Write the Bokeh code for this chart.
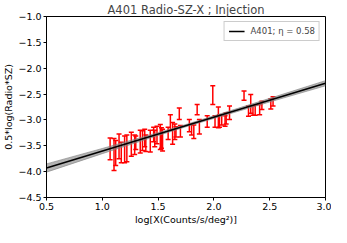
import numpy as np
from bokeh.plotting import figure
from bokeh.models import ColumnDataSource, Whisker, TeeHead, FixedTicker, Legend, LegendItem
from bokeh.embed import file_html
from bokeh.resources import INLINE

# data points (log X, 0.5*log(Radio*SZ), error)
x_vals = [1.07, 1.105, 1.12, 1.15, 1.17, 1.20, 1.22, 1.26, 1.29, 1.30, 1.34, 1.36, 1.38, 1.39,
          1.43, 1.46, 1.47, 1.49, 1.52, 1.53, 1.54, 1.59, 1.61, 1.63, 1.65, 1.66, 1.69, 1.70,
          1.78, 1.80, 1.82, 1.85, 1.87, 1.94, 1.99, 2.01, 2.04, 2.05, 2.07, 2.10, 2.11, 2.14,
          2.27, 2.31, 2.33, 2.35, 2.37, 2.41, 2.43, 2.51, 2.53]
y_vals = [-3.56, -3.67, -3.64, -3.51, -3.63, -3.57, -3.55, -3.47, -3.48, -3.44, -3.42, -3.40, -3.35, -3.45,
          -3.41, -3.28, -3.36, -3.29, -3.33, -3.35, -3.39, -3.26, -3.05, -3.26, -3.23, -3.23, -2.88, -3.22,
          -3.11, -3.19, -3.23, -2.80, -3.13, -3.03, -2.52, -3.03, -2.95, -3.02, -3.00, -3.02, -2.97, -2.86,
          -2.53, -2.83, -2.69, -2.82, -2.81, -2.80, -2.72, -2.69, -2.64]
y_errs = [0.21, 0.31, 0.24, 0.24, 0.20, 0.26, 0.26, 0.23, 0.19, 0.13, 0.22, 0.19, 0.17, 0.16,
          0.21, 0.14, 0.16, 0.17, 0.24, 0.20, 0.21, 0.12, 0.15, 0.21, 0.15, 0.10, 0.11, 0.11,
          0.12, 0.10, 0.13, 0.10, 0.14, 0.11, 0.18, 0.11, 0.20, 0.12, 0.10, 0.10, 0.11, 0.13,
          0.09, 0.10, 0.18, 0.09, 0.10, 0.10, 0.08, 0.10, 0.09]

# fit line and confidence band
fit_x = [0.5, 3.0]
fit_y = [-3.93, -2.29]
band_x = [0.5, 1.0, 1.5, 1.75, 2.0, 2.5, 3.0]
band_hw = [0.08, 0.05, 0.028, 0.022, 0.025, 0.035, 0.05]

x_ticks = [0.5, 1.0, 1.5, 2.0, 2.5, 3.0]
y_ticks = [-4.5, -4.0, -3.5, -3.0, -2.5, -2.0, -1.5, -1.0]

title_text = "A401 Radio-SZ-X ; Injection"
legend_text = "A401; η = 0.58"
x_label = "log[X(Counts/s/deg²)]"
y_label = "0.5*log(Radio*SZ)"

FONT = "DejaVu Sans"

p = figure(width=331, height=227, x_range=(0.5, 3.0), y_range=(-4.5, -1.0),
           output_backend="svg", toolbar_location=None,
           min_border_left=37, min_border_right=6, min_border_top=12, min_border_bottom=27)
p.title.text = title_text
p.title.text_font = FONT
p.title.text_font_size = "11.5px"
p.title.text_font_style = "normal"
p.title.align = "center"
p.title.standoff = 0
p.title.offset = 0

p.grid.visible = False
p.outline_line_color = "black"
p.outline_line_width = 1

for ax, ticks in ((p.xaxis[0], x_ticks), (p.yaxis[0], y_ticks)):
    ax.ticker = FixedTicker(ticks=ticks)
    ax.major_label_overrides = {t: (("−%.1f" % abs(t)) if t < 0 else "%.1f" % t) for t in ticks}
    ax.minor_tick_line_color = None
    ax.major_tick_out = 3
    ax.major_tick_in = 0
    ax.axis_line_color = "black"
    ax.major_tick_line_color = "black"
    ax.major_label_text_font = FONT
    ax.major_label_text_font_size = "9.5px"
    ax.major_label_text_color = "black"
    ax.axis_label_text_font = FONT
    ax.axis_label_text_font_size = "9.5px"
    ax.axis_label_text_font_style = "normal"
    ax.axis_label_text_color = "black"
    ax.major_label_standoff = 2
    ax.axis_label_standoff = 1

p.xaxis.axis_label = x_label
p.yaxis.axis_label = y_label

# band
fy = np.interp(band_x, fit_x, fit_y)
lo = fy - np.array(band_hw)
hi = fy + np.array(band_hw)
p.varea(x=band_x, y1=lo, y2=hi, fill_color="gray", fill_alpha=0.6)
p.line(band_x, lo, line_color="gray", line_alpha=0.6, line_width=1)
p.line(band_x, hi, line_color="gray", line_alpha=0.6, line_width=1)

# error bars
src = ColumnDataSource(dict(x=x_vals, upper=np.array(y_vals) + np.array(y_errs),
                            lower=np.array(y_vals) - np.array(y_errs)))
w = Whisker(source=src, base="x", upper="upper", lower="lower", dimension="height",
            line_color="red", line_width=1.5,
            upper_head=TeeHead(size=5, line_color="red", line_width=1.5),
            lower_head=TeeHead(size=5, line_color="red", line_width=1.5))
p.add_layout(w)

# fit line
fl = p.line(fit_x, fit_y, line_color="black", line_width=1.5)

legend = Legend(items=[LegendItem(label=legend_text, renderers=[fl])], location="top_right")
legend.label_text_font = FONT
legend.label_text_font_size = "8.5px"
legend.border_line_color = "#cccccc"
legend.border_line_alpha = 1
legend.glyph_width = 16
legend.glyph_height = 10
legend.padding = 4
legend.margin = 5
legend.spacing = 0
legend.label_standoff = 6
legend.background_fill_alpha = 0.8
p.add_layout(legend)

open("out.html", "w").write(file_html(p, INLINE))
